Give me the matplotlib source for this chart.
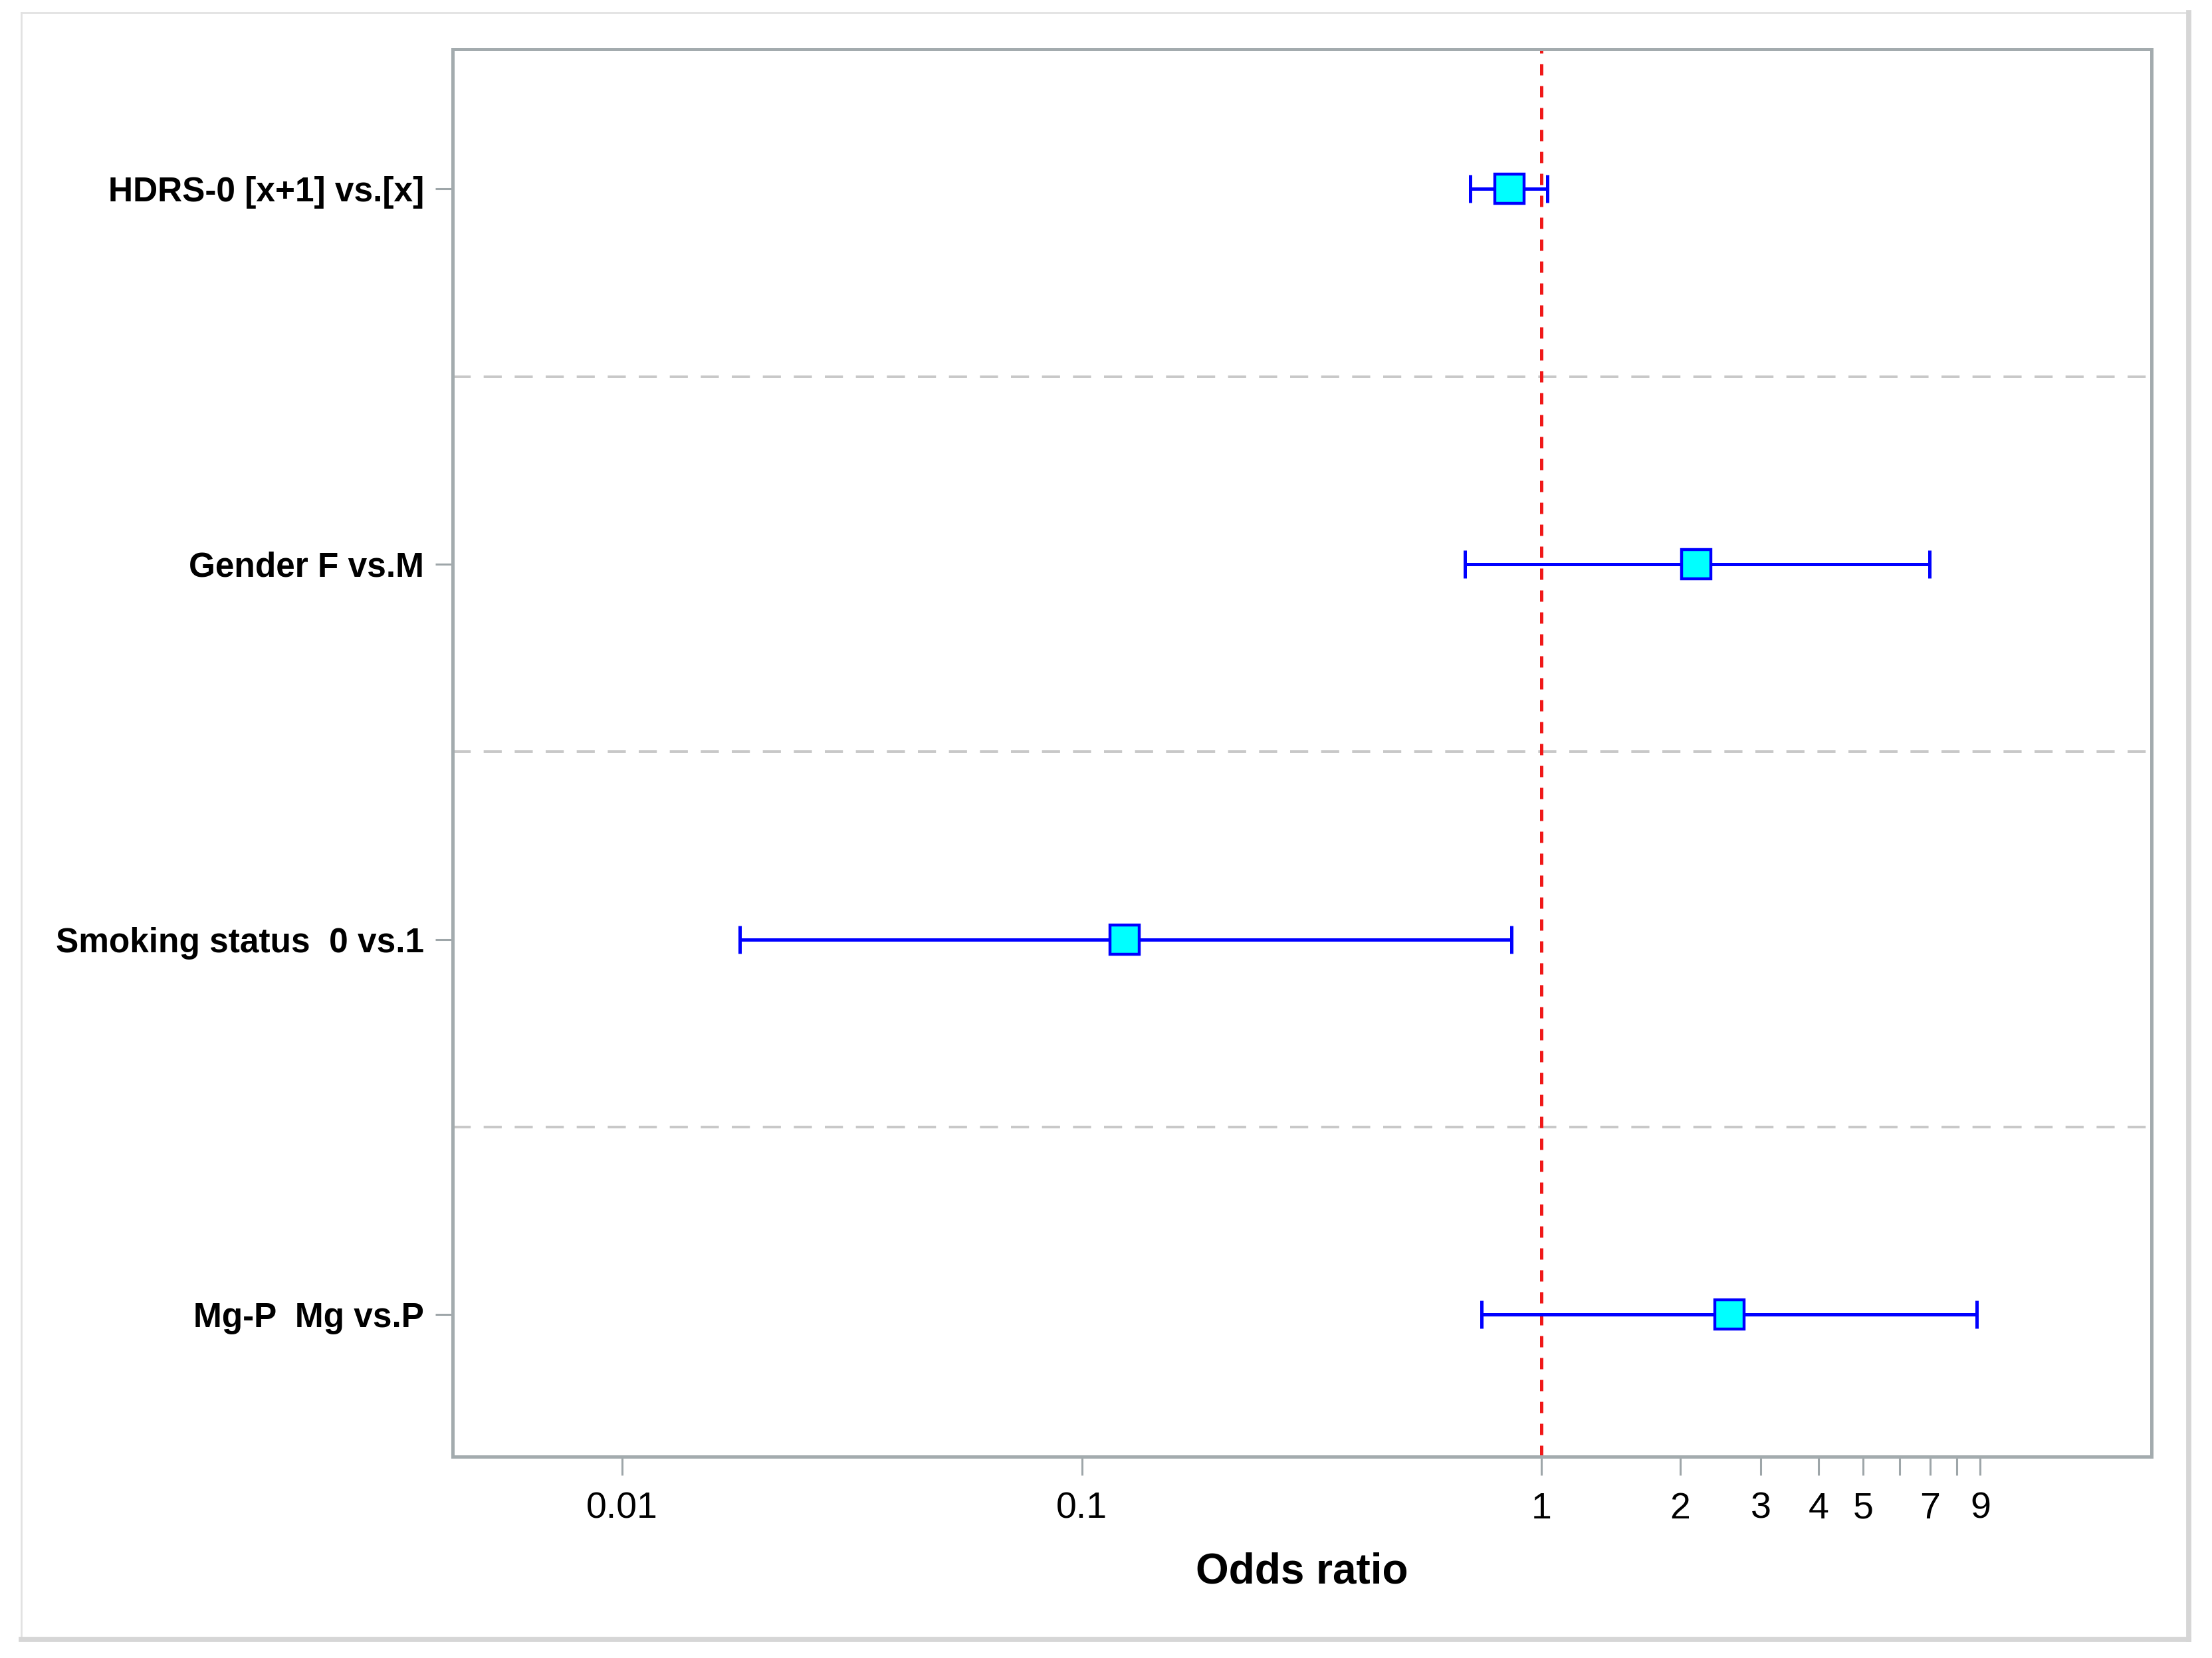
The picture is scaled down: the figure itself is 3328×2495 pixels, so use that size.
import matplotlib
matplotlib.use("Agg")
import matplotlib.pyplot as plt
from matplotlib.lines import Line2D
import numpy as np

# odds ratios with 95% CI, top to bottom
labels = ["HDRS-0 [x+1] vs.[x]", "Gender F vs.M", "Smoking status  0 vs.1", "Mg-P  Mg vs.P"]
odds = [0.85, 2.17, 0.124, 2.56]
ci_low = [0.70, 0.68, 0.018, 0.74]
ci_high = [1.03, 6.98, 0.86, 8.85]

tick_vals = [0.01, 0.1, 1, 2, 3, 4, 5, 6, 7, 8, 9]
tick_labels = ["0.01", "0.1", "1", "2", "3", "4", "5", "", "7", "", "9"]

plt.rcParams['font.family'] = ['Liberation Sans', 'DejaVu Sans']

fig = plt.figure(figsize=(16.64, 12.475), dpi=200)
ax = fig.add_axes([0.2046, 0.1215, 0.7681, 0.8488])

y = np.arange(len(labels))
odds = np.array(odds)
err = np.vstack([odds - np.array(ci_low), np.array(ci_high) - odds])

# separators between rows
for s in y[:-1] + 0.5:
    ax.axhline(s, color='#c8c8c8', lw=1.4, dashes=(7, 5), zorder=1)

# reference line at OR = 1
ax.axvline(1, color='#f01818', lw=1.8, dashes=(3.4, 3.2), zorder=2)

ax.errorbar(odds, y, xerr=err, fmt='none', ecolor='#0000ff', elinewidth=1.8,
            capsize=7.5, capthick=1.8, zorder=3)
ax.plot(odds, y, 's', ms=15.5, mfc='#00ffff', mec='#0000ff', mew=1.6, zorder=4)

ax.set_xscale('log')
ax.set_xlim(10 ** -2.369, 10 ** 1.327)
ax.set_ylim(3.378, -0.372)

ax.xaxis.set_minor_locator(matplotlib.ticker.NullLocator())
ax.set_xticks(tick_vals)
ax.set_xticklabels(tick_labels, fontsize=20)
ax.set_yticks(y)
ax.set_yticklabels(labels, fontsize=18.5, fontweight='bold')

ax.tick_params(axis='x', length=10, width=1.1, color='#9ea6a9', pad=9)
ax.tick_params(axis='y', length=9.5, width=1.1, color='#9ea6a9', pad=6)
for sp in ax.spines.values():
    sp.set_color('#a3abae')
    sp.set_linewidth(1.8)

ax.set_xlabel("Odds ratio", fontsize=23, fontweight='bold', labelpad=14)

# outer frame with light shadow on right and bottom
l, r, b, t = 0.0096, 0.9895, 0.0112, 0.9924
fig.add_artist(Line2D([l, r], [t, t], color='#e2e2e2', lw=1.0, transform=fig.transFigure))
fig.add_artist(Line2D([l, l], [b, t], color='#e2e2e2', lw=1.0, transform=fig.transFigure))
fig.add_artist(Line2D([r, r], [b, t], color='#d6d6d6', lw=2.8, transform=fig.transFigure))
fig.add_artist(Line2D([l, r], [b, b], color='#d6d6d6', lw=2.8, transform=fig.transFigure))

fig.savefig("out.png", dpi=200, facecolor='white')
